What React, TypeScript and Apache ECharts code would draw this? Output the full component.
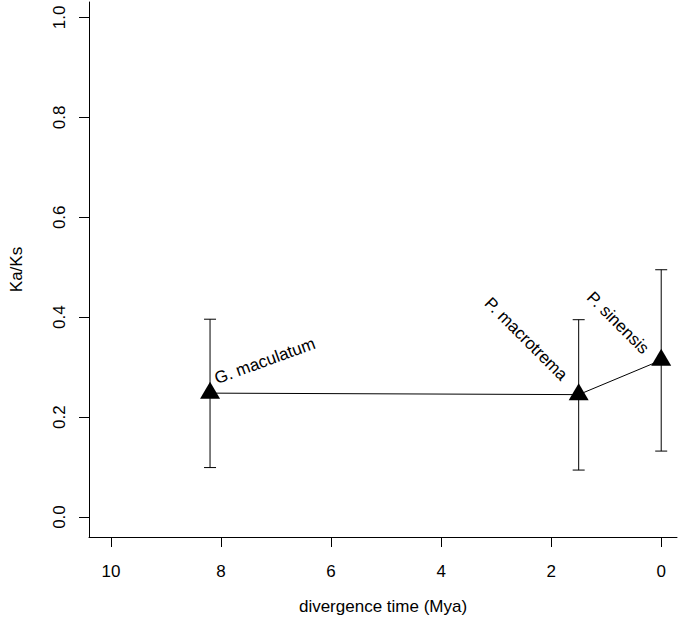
import React, { useEffect, useRef } from "react";
import * as echarts from "echarts";

// ---- data ----
const species = ["G. maculatum", "P. macrotrema", "P. sinensis"];
const divergenceTime = [8.2, 1.5, 0];
const kaKs = [0.248, 0.245, 0.314];
const kaKsLow = [0.099, 0.094, 0.132];
const kaKsHigh = [0.396, 0.395, 0.495];
const xTicks = [0, 2, 4, 6, 8, 10];
const yTicks = [0, 0.2, 0.4, 0.6, 0.8, 1.0];

// ---- styling ----
const FONT = "'Liberation Sans', Arial, Helvetica, sans-serif";
const FS = 17;
const labelPlacement = [
  { dx: 8, dy: -6, rotate: 20, align: "left" },
  { dx: -20, dy: -11, rotate: -45, align: "right" },
  { dx: -21, dy: -3, rotate: -45, align: "right" },
];

export default function App() {
  const ref = useRef<HTMLDivElement>(null);
  useEffect(() => {
    const chart = echarts.init(ref.current!, null, { renderer: "svg" });
    const axisText = { color: "#000", fontSize: FS, fontFamily: FONT };
    const option: any = {
      animation: false,
      grid: { left: 81, right: 3, top: 2, bottom: 85, containLabel: false },
      xAxis: {
        type: "value",
        inverse: true,
        min: -0.287,
        max: 10.4,
        splitLine: { show: false },
        axisLine: { show: true, onZero: false, lineStyle: { color: "#000", width: 1 } },
        axisTick: { show: true, inside: false, length: 10, customValues: xTicks, lineStyle: { color: "#000", width: 1 } },
        axisLabel: { customValues: xTicks, margin: 26, ...axisText, formatter: (v: number) => String(v) },
        name: "divergence time (Mya)",
        nameLocation: "middle",
        nameGap: 61,
        nameTextStyle: axisText,
      },
      yAxis: {
        type: "value",
        min: -0.04,
        max: 1.031,
        splitLine: { show: false },
        axisLine: { show: true, onZero: false, lineStyle: { color: "#000", width: 1 } },
        axisTick: { show: true, inside: false, length: 10, customValues: yTicks, lineStyle: { color: "#000", width: 1 } },
        axisLabel: { customValues: yTicks, rotate: 90, margin: 21, ...axisText, formatter: (v: number) => v.toFixed(1) },
        name: "Ka/Ks",
        nameLocation: "middle",
        nameGap: 64,
        nameTextStyle: axisText,
      },
      series: [
        {
          type: "line",
          data: divergenceTime.map((x, i) => [x, kaKs[i]]),
          symbol: "none",
          lineStyle: { color: "#000", width: 1 },
          z: 2,
        },
        {
          type: "custom",
          data: divergenceTime.map((x, i) => [x, kaKsLow[i], kaKsHigh[i]]),
          encode: { x: 0, y: [1, 2] },
          renderItem: (params: any, api: any) => {
            const x = api.value(0);
            const pLo = api.coord([x, api.value(1)]);
            const pHi = api.coord([x, api.value(2)]);
            const w = 6;
            const style = { stroke: "#000", lineWidth: 1, fill: "none" };
            return {
              type: "group",
              children: [
                { type: "line", shape: { x1: pLo[0], y1: pLo[1], x2: pHi[0], y2: pHi[1] }, style },
                { type: "line", shape: { x1: pLo[0] - w, y1: pLo[1], x2: pLo[0] + w, y2: pLo[1] }, style },
                { type: "line", shape: { x1: pHi[0] - w, y1: pHi[1], x2: pHi[0] + w, y2: pHi[1] }, style },
              ],
            };
          },
          z: 3,
        },
        {
          type: "scatter",
          data: divergenceTime.map((x, i) => [x, kaKs[i]]),
          symbol: "triangle",
          symbolSize: [20, 17],
          symbolOffset: [0, -2.8],
          itemStyle: { color: "#000", opacity: 1 },
          z: 4,
        },
      ],
    };
    chart.setOption(option);

    const graphics = species.map((name, i) => {
      const p = chart.convertToPixel({ gridIndex: 0 }, [divergenceTime[i], kaKs[i]]) as number[];
      const lp = labelPlacement[i];
      return {
        type: "text",
        x: p[0] + lp.dx,
        y: p[1] + lp.dy,
        rotation: (lp.rotate * Math.PI) / 180,
        silent: true,
        style: {
          text: name,
          fill: "#000",
          fontSize: FS,
          fontFamily: FONT,
          textAlign: lp.align,
          align: lp.align,
          textVerticalAlign: "bottom",
          verticalAlign: "bottom",
        },
      };
    });
    chart.setOption({ graphic: graphics });

    return () => chart.dispose();
  }, []);
  return (
    <div
      ref={ref}
      style={{ position: "fixed", left: 0, top: 0, width: 680, height: 622, background: "#fff" }}
    />
  );
}
